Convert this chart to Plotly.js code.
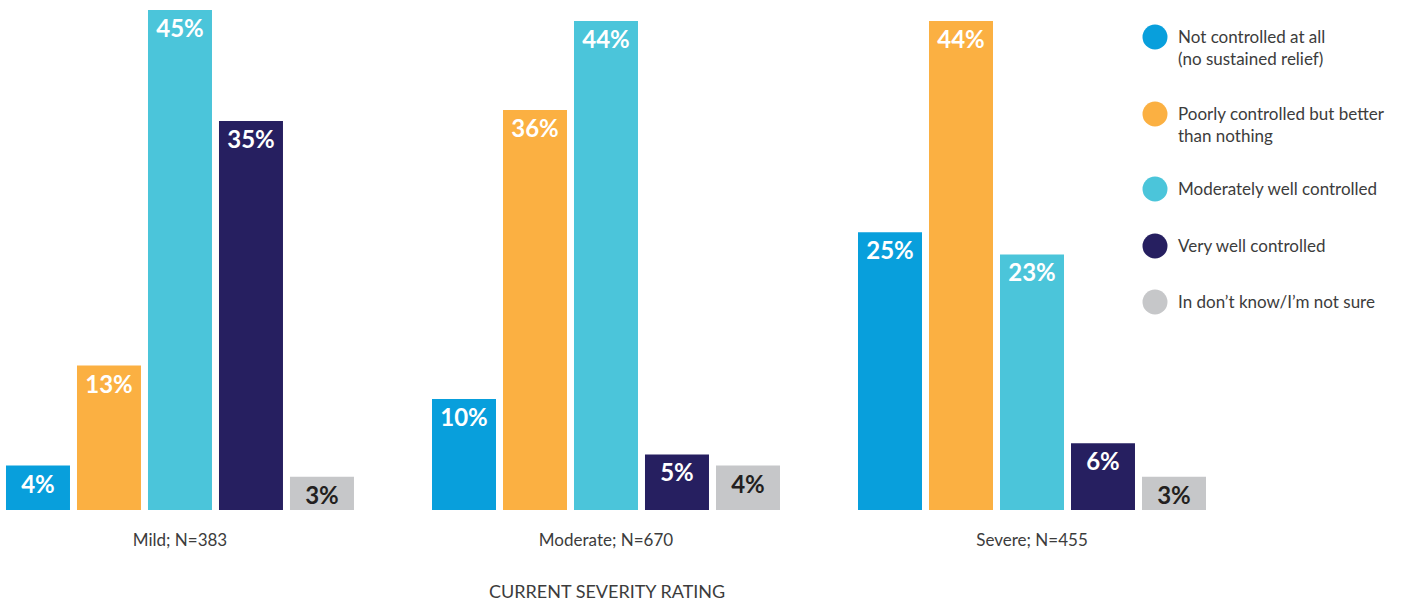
<!DOCTYPE html>
<html>
<head>
<meta charset="utf-8">
<script src="https://cdn.plot.ly/plotly-3.0.1.min.js"></script>
<style>html,body{margin:0;padding:0;background:#fff;}#chart{width:1420px;height:602px;}</style>
</head>
<body>
<div id="chart"></div>
<script>
// ---- data ----
const categories = ["Mild; N=383", "Moderate; N=670", "Severe; N=455"];
const seriesNames = [
  "Not controlled at all<br>(no sustained relief)",
  "Poorly controlled but better<br>than nothing",
  "Moderately well controlled",
  "Very well controlled",
  "In don\u2019t know/I\u2019m not sure"
];
const notControlled    = [4, 10, 25];
const poorlyControlled = [13, 36, 44];
const moderatelyWell   = [45, 44, 23];
const veryWell         = [35, 5, 6];
const dontKnow         = [3, 4, 3];
const axisTitle = "CURRENT SEVERITY RATING";

// ---- styles ----
const seriesValues = [notControlled, poorlyControlled, moderatelyWell, veryWell, dontKnow];
const colors = ["#089fdc", "#fbb042", "#4bc5da", "#261f60", "#c6c7c9"];
const textColors = ["#ffffff", "#ffffff", "#ffffff", "#ffffff", "#231f20"];
const FONT = "Lato, 'Open Sans', sans-serif";
const TXT = "#3c3c3c";

const W = 1420, H = 602;
const M = {l: 0, r: 175, t: 0, b: 92};
const pw = W - M.l - M.r, ph = H - M.t - M.b;
const px = x => (x - M.l) / pw;
const py = y => 1 - (y - M.t) / ph;

const traces = seriesValues.map((vals, i) => ({
  type: "bar",
  name: seriesNames[i].replace("<br>", " "),
  x: categories,
  y: vals,
  marker: {color: colors[i]},
  text: vals.map(v => v + "%"),
  textposition: "inside",
  insidetextanchor: "end",
  constraintext: "none",
  textfont: {family: FONT, size: 24, color: textColors[i], weight: "bold"},
  hoverinfo: "skip",
  showlegend: false
}));

// manual legend (circle + text)
const legendRows = [37, 114, 189, 246, 302];
const legendFont = 17;
const lineStep = legendFont * 1.3;
const shapes = [];
const annotations = [];
seriesNames.forEach((n, i) => {
  const cy = legendRows[i];
  const nLines = n.split("<br>").length;
  shapes.push({
    type: "circle", xref: "paper", yref: "paper",
    xsizemode: "pixel", ysizemode: "pixel",
    xanchor: px(1155), yanchor: py(cy),
    x0: -12.5, x1: 12.5, y0: -12.5, y1: 12.5,
    fillcolor: colors[i], line: {width: 0}
  });
  annotations.push({
    xref: "paper", yref: "paper",
    x: px(1176), y: py(cy - 1 + (nLines - 1) * lineStep / 2),
    xanchor: "left", yanchor: "middle", align: "left",
    text: n, showarrow: false,
    font: {family: FONT, size: legendFont, color: TXT}
  });
});

// axis title
annotations.push({
  xref: "paper", yref: "paper",
  x: px(607), y: py(591), xanchor: "center", yanchor: "middle",
  text: axisTitle, showarrow: false,
  font: {family: FONT, size: 18, color: TXT}
});

const layout = {
  width: W, height: H,
  margin: M,
  paper_bgcolor: "#ffffff", plot_bgcolor: "#ffffff",
  barmode: "group",
  bargap: 0.1667,
  bargroupgap: 0.0986,
  showlegend: false,
  xaxis: {
    type: "category",
    range: [-0.4225, 2.5],
    showgrid: false, zeroline: false, showline: false,
    ticks: "", ticklabelstandoff: 18,
    tickfont: {family: FONT, size: 17, color: TXT},
    automargin: false, fixedrange: true
  },
  yaxis: {
    range: [0, 45.9],
    visible: false, showgrid: false, zeroline: false, fixedrange: true
  },
  shapes: shapes,
  annotations: annotations
};

Plotly.newPlot("chart", traces, layout, {displayModeBar: false, staticPlot: true});
</script>
</body>
</html>
